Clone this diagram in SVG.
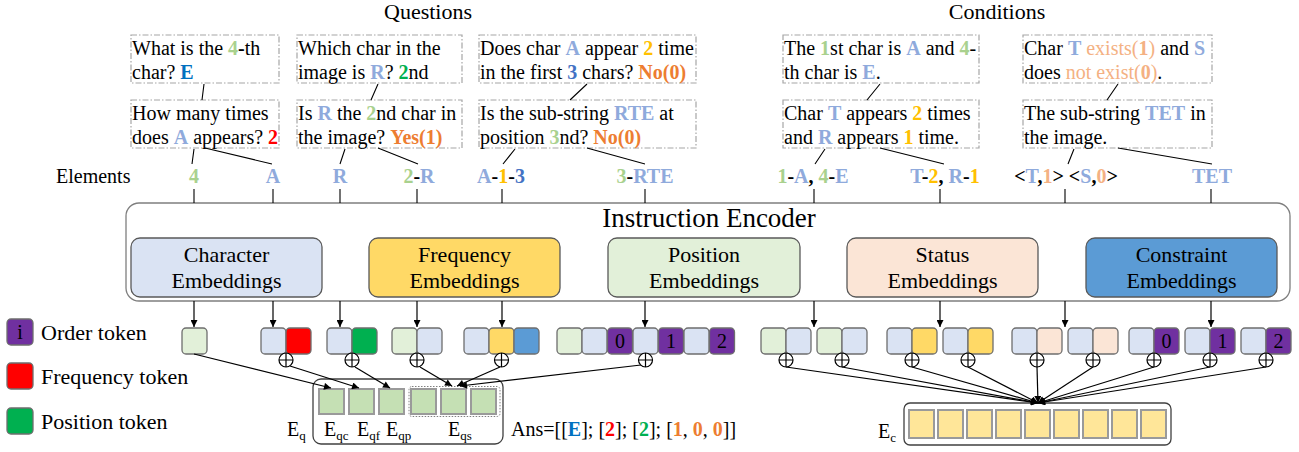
<svg xmlns="http://www.w3.org/2000/svg" width="1299" height="452" viewBox="0 0 1299 452">
<defs>
<marker id="ah" viewBox="0 0 10 10" refX="10" refY="5" markerWidth="8" markerHeight="7" markerUnits="userSpaceOnUse" orient="auto"><path d="M0,0 L10,5 L0,10 z" fill="#000"/></marker>
<g id="plus"><circle cx="0" cy="0" r="7" fill="#fff" stroke="#000" stroke-width="1.2"/><path d="M-7,0H7M0,-7V7" stroke="#000" stroke-width="1.2"/></g>
<style>
text{font-family:"Liberation Serif","Times New Roman",serif;fill:#000}
.q{font-size:20px}
.t22{font-size:22px}
.b{font-weight:bold}
.lg{fill:#A9D18E}
.lb{fill:#8FAADC}
.db{fill:#0070C0}
.b3{fill:#4472C4}
.gd{fill:#FFC000}
.or{fill:#ED7D31}
.sa{fill:#F4B183}
.rd{fill:#FF0000}
.gr{fill:#00B050}
.mid{text-anchor:middle}
.qbox{fill:none;stroke:#A6A6A6;stroke-width:1.2;stroke-dasharray:6 2 1.5 2}
.ln{stroke:#000;stroke-width:1.1;fill:none}
.arr{stroke:#000;stroke-width:1.2;fill:none;marker-end:url(#ah)}
.tok{stroke:#6E6E6E;stroke-width:1.3}
.emb{stroke:#595959;stroke-width:1.3}
.cL{fill:#DAE3F3}
.cG{fill:#E2F0D9}
.cY{fill:#FFD966}
.cB{fill:#5B9BD5}
.cP{fill:#7030A0}
.cS{fill:#FBE5D6}
.cR{fill:#FF0000}
.cN{fill:#00B050}
.eq{fill:#C5E0B4;stroke:#9A9A9A;stroke-width:2}
.ec{fill:#FFE699;stroke:#9A9A9A;stroke-width:2}
</style>
</defs>
<rect width="1299" height="452" fill="#fff"/>

<text class="t22 mid" x="428" y="19">Questions</text>
<text class="t22 mid" x="997" y="19">Conditions</text>

<g id="q1"><rect class="qbox" x="131" y="35" width="148" height="48"/>
<text class="q" x="132" y="55">What is the <tspan class="b lg">4</tspan><tspan class="b">-</tspan>th</text>
<text class="q" x="132" y="79">char? <tspan class="b db">E</tspan></text></g>
<g id="q2"><rect class="qbox" x="131" y="100" width="148" height="48"/>
<text class="q" x="132" y="120">How many times</text>
<text class="q" x="132" y="144">does <tspan class="b lb">A</tspan> appears? <tspan class="b rd">2</tspan></text></g>
<g id="q3"><rect class="qbox" x="297" y="35" width="165" height="48"/>
<text class="q" x="298" y="55">Which char in the</text>
<text class="q" x="298" y="79">image is <tspan class="b lb">R</tspan>? <tspan class="b gr">2</tspan>nd</text></g>
<g id="q4"><rect class="qbox" x="297" y="100" width="165" height="48"/>
<text class="q" x="298" y="120">Is <tspan class="b lb">R</tspan> the <tspan class="b lg">2</tspan>nd char in</text>
<text class="q" x="298" y="144">the image? <tspan class="b or">Yes(1)</tspan></text></g>
<g id="q5"><rect class="qbox" x="479" y="35" width="217" height="48"/>
<text class="q" x="480" y="55">Does char <tspan class="b lb">A</tspan> appear <tspan class="b gd">2</tspan> time</text>
<text class="q" x="480" y="79">in the first <tspan class="b b3">3</tspan> chars? <tspan class="b or">No(0)</tspan></text></g>
<g id="q6"><rect class="qbox" x="479" y="100" width="217" height="48"/>
<text class="q" x="480" y="120">Is the sub-string <tspan class="b lb">RTE</tspan> at</text>
<text class="q" x="480" y="144">position <tspan class="b lg">3</tspan>nd? <tspan class="b or">No(0)</tspan></text></g>
<g id="c1"><rect class="qbox" x="783" y="35" width="196" height="48"/>
<text class="q" x="784" y="55">The <tspan class="b lg">1</tspan>st char is <tspan class="b lb">A</tspan> and <tspan class="b lg">4</tspan>-</text>
<text class="q" x="784" y="79">th char is <tspan class="b lb">E</tspan>.</text></g>
<g id="c2"><rect class="qbox" x="783" y="100" width="196" height="48"/>
<text class="q" x="784" y="120">Char <tspan class="b lb">T</tspan> appears <tspan class="b gd">2</tspan> times</text>
<text class="q" x="784" y="144">and <tspan class="b lb">R</tspan> appears <tspan class="b gd">1</tspan> time.</text></g>
<g id="c3"><rect class="qbox" x="1023" y="35" width="189" height="48"/>
<text class="q" x="1024" y="55">Char <tspan class="b lb">T</tspan> <tspan class="sa">exists(</tspan><tspan class="b sa">1</tspan><tspan class="sa">)</tspan> and <tspan class="b lb">S</tspan></text>
<text class="q" x="1024" y="79">does <tspan class="sa">not exist(</tspan><tspan class="b sa">0</tspan><tspan class="sa">)</tspan>.</text></g>
<g id="c4"><rect class="qbox" x="1023" y="100" width="189" height="48"/>
<text class="q" x="1024" y="120">The sub-string <tspan class="b lb">TET</tspan> in</text>
<text class="q" x="1024" y="144">the image.</text></g>

<g id="elements">
<text class="q" x="56" y="183">Elements</text>
<text class="q b mid lg" x="194" y="183">4</text>
<text class="q b mid lb" x="273" y="183">A</text>
<text class="q b mid lb" x="340" y="183">R</text>
<text class="q b mid" x="419" y="183"><tspan class="lg">2</tspan>-<tspan class="lb">R</tspan></text>
<text class="q b mid" x="501" y="183"><tspan class="lb">A</tspan>-<tspan class="gd">1</tspan>-<tspan class="b3">3</tspan></text>
<text class="q b mid" x="645" y="183"><tspan class="lg">3</tspan>-<tspan class="lb">RTE</tspan></text>
<text class="q b mid" x="813" y="183"><tspan class="lg">1</tspan>-<tspan class="lb">A</tspan>, <tspan class="lg">4</tspan>-<tspan class="lb">E</tspan></text>
<text class="q b mid" x="945" y="183"><tspan class="lb">T</tspan>-<tspan class="gd">2</tspan>, <tspan class="lb">R</tspan>-<tspan class="gd">1</tspan></text>
<text class="q b mid" x="1066" y="183">&lt;<tspan class="lb">T</tspan>,<tspan class="sa">1</tspan>&gt; &lt;<tspan class="lb">S</tspan>,<tspan class="sa">0</tspan>&gt;</text>
<text class="q b mid lb" x="1212" y="183">TET</text>
</g>

<g id="encoder">
<rect x="126" y="203" width="1164" height="98" rx="13" fill="#fff" stroke="#7F7F7F" stroke-width="1.3"/>
<text class="mid" x="709" y="227" style="font-size:27px">Instruction Encoder</text>
<g id="char-emb"><rect class="emb cL" x="131" y="238" width="191" height="59" rx="9"/>
<text class="t22 mid" x="226.5" y="262">Character</text><text class="t22 mid" x="226.5" y="288">Embeddings</text></g>
<g id="freq-emb"><rect class="emb cY" x="369" y="238" width="191" height="59" rx="9"/>
<text class="t22 mid" x="464.5" y="262">Frequency</text><text class="t22 mid" x="464.5" y="288">Embeddings</text></g>
<g id="pos-emb"><rect class="emb cG" x="608" y="238" width="192" height="59" rx="9"/>
<text class="t22 mid" x="704" y="262">Position</text><text class="t22 mid" x="704" y="288">Embeddings</text></g>
<g id="status-emb"><rect class="emb cS" x="847" y="238" width="191" height="59" rx="9"/>
<text class="t22 mid" x="942.5" y="262">Status</text><text class="t22 mid" x="942.5" y="288">Embeddings</text></g>
<g id="cons-emb"><rect class="emb cB" x="1086" y="238" width="191" height="59" rx="9"/>
<text class="t22 mid" x="1181.5" y="262">Constraint</text><text class="t22 mid" x="1181.5" y="288">Embeddings</text></g>
</g>

<g id="legend">
<rect class="tok cP" x="7" y="319" width="26" height="26" rx="4"/><text class="q mid" x="20" y="339">i</text>
<text class="t22" x="41" y="340">Order token</text>
<rect class="tok cR" x="7" y="363" width="26" height="26" rx="4"/>
<text class="t22" x="41" y="384">Frequency token</text>
<rect class="tok cN" x="7" y="408" width="26" height="26" rx="4"/>
<text class="t22" x="41" y="429">Position token</text>
</g>

<g id="tokens-q">
<g id="t1"><rect class="tok cG" x="182" y="328" width="25" height="26" rx="4"/></g>
<g id="t2"><rect class="tok cL" x="261" y="328" width="25" height="26" rx="4"/><rect class="tok cR" x="286" y="328" width="25" height="26" rx="4"/></g>
<g id="t3"><rect class="tok cL" x="327" y="328" width="25" height="26" rx="4"/><rect class="tok cN" x="352" y="328" width="25" height="26" rx="4"/></g>
<g id="t4"><rect class="tok cG" x="392" y="328" width="25" height="26" rx="4"/><rect class="tok cL" x="417" y="328" width="25" height="26" rx="4"/></g>
<g id="t5"><rect class="tok cL" x="464" y="328" width="25" height="26" rx="4"/><rect class="tok cY" x="489" y="328" width="25" height="26" rx="4"/><rect class="tok cB" x="514" y="328" width="25" height="26" rx="4"/></g>
<g id="t6"><rect class="tok cG" x="557" y="328" width="25" height="26" rx="4"/><rect class="tok cL" x="582" y="328" width="25" height="26" rx="4"/><rect class="tok cP" x="607.5" y="328" width="25" height="26" rx="4"/><rect class="tok cL" x="633" y="328" width="25" height="26" rx="4"/><rect class="tok cP" x="658.5" y="328" width="25" height="26" rx="4"/><rect class="tok cL" x="684" y="328" width="25" height="26" rx="4"/><rect class="tok cP" x="709.5" y="328" width="25" height="26" rx="4"/>
<text class="q mid" x="620" y="348">0</text><text class="q mid" x="671" y="348">1</text><text class="q mid" x="722" y="348">2</text></g>
</g>
<g id="tokens-c">
<g id="t7"><rect class="tok cG" x="761" y="328" width="25" height="26" rx="4"/><rect class="tok cL" x="786" y="328" width="25" height="26" rx="4"/><rect class="tok cG" x="817" y="328" width="25" height="26" rx="4"/><rect class="tok cL" x="842" y="328" width="25" height="26" rx="4"/></g>
<g id="t8"><rect class="tok cL" x="887" y="328" width="25" height="26" rx="4"/><rect class="tok cY" x="912" y="328" width="25" height="26" rx="4"/><rect class="tok cL" x="943" y="328" width="25" height="26" rx="4"/><rect class="tok cY" x="968" y="328" width="25" height="26" rx="4"/></g>
<g id="t9"><rect class="tok cL" x="1012" y="328" width="25" height="26" rx="4"/><rect class="tok cS" x="1037" y="328" width="25" height="26" rx="4"/><rect class="tok cL" x="1068" y="328" width="25" height="26" rx="4"/><rect class="tok cS" x="1093" y="328" width="25" height="26" rx="4"/></g>
<g id="t10"><rect class="tok cL" x="1129" y="328" width="25" height="26" rx="4"/><rect class="tok cP" x="1154" y="328" width="25" height="26" rx="4"/><rect class="tok cL" x="1185" y="328" width="25" height="26" rx="4"/><rect class="tok cP" x="1210" y="328" width="25" height="26" rx="4"/><rect class="tok cL" x="1241" y="328" width="25" height="26" rx="4"/><rect class="tok cP" x="1266" y="328" width="25" height="26" rx="4"/>
<text class="q mid" x="1166.5" y="348">0</text><text class="q mid" x="1222.5" y="348">1</text><text class="q mid" x="1278.5" y="348">2</text></g>
</g>

<g id="eq">
<rect x="313" y="379" width="190" height="65" rx="8" fill="none" stroke="#404040" stroke-width="1.3"/>
<rect x="319" y="389" width="25" height="25" class="eq"/><rect x="349" y="389" width="25" height="25" class="eq"/><rect x="379" y="389" width="25" height="25" class="eq"/><rect x="411" y="389" width="25" height="25" class="eq"/><rect x="441" y="389" width="25" height="25" class="eq"/><rect x="471" y="389" width="25" height="25" class="eq"/>
<rect x="409" y="386.5" width="91" height="30" rx="3" fill="none" stroke="#808080" stroke-width="1" stroke-dasharray="1.5 1.5"/>
<text class="q" x="287" y="436">E<tspan font-size="13" dy="4">q</tspan></text>
<text class="q" x="324" y="436">E<tspan font-size="13" dy="4">qc</tspan></text>
<text class="q" x="357" y="436">E<tspan font-size="13" dy="4">qf</tspan></text>
<text class="q" x="386" y="436">E<tspan font-size="13" dy="4">qp</tspan></text>
<text class="q" x="448" y="436">E<tspan font-size="13" dy="4">qs</tspan></text>
</g>
<g id="ans"><text class="q" x="511" y="436">Ans=[[<tspan class="b db">E</tspan>]; [<tspan class="b rd">2</tspan>]; [<tspan class="b gr">2</tspan>]; [<tspan class="b or">1</tspan>, <tspan class="b or">0</tspan>, <tspan class="b or">0</tspan>]]</text></g>

<g id="ec">
<rect x="904" y="403" width="267" height="42" rx="6" fill="none" stroke="#404040" stroke-width="1.3"/>
<rect x="909" y="410" width="25" height="28" class="ec"/><rect x="938" y="410" width="25" height="28" class="ec"/><rect x="967" y="410" width="25" height="28" class="ec"/><rect x="996" y="410" width="25" height="28" class="ec"/><rect x="1025" y="410" width="25" height="28" class="ec"/><rect x="1054" y="410" width="25" height="28" class="ec"/><rect x="1083" y="410" width="25" height="28" class="ec"/><rect x="1112" y="410" width="25" height="28" class="ec"/><rect x="1141" y="410" width="25" height="28" class="ec"/>
<text class="q" x="878" y="438">E<tspan font-size="13" dy="4">c</tspan></text>
</g>

<g id="connectors">
<path class="ln" d="M204,84L202,100M378,84L371,100M587,84L570,100M880,84L867,100M1118,84L1107,100"/>
<path class="ln" d="M194,149L192,164M205,148L272,164M345,149L340,164M378,148L418,164M515,149L503,164M587,148L645,164M825,149L815,164M880,148L944,164M1074,149L1068,164M1118,148L1212,164"/>
<path class="ln" d="M194,189V203M273,189V203M340,189V203M417,189V203M502,189V203M645,189V203M814,189V203M940,189V203M1065,189V203M1211,189V203"/>
<path class="arr" d="M194,301V327"/><path class="arr" d="M273,301V327"/><path class="arr" d="M340,301V327"/><path class="arr" d="M417,301V327"/><path class="arr" d="M502,301V327"/><path class="arr" d="M645,301V327"/>
<path class="arr" d="M814,301V327"/><path class="arr" d="M940,301V327"/><path class="arr" d="M1065,301V327"/><path class="arr" d="M1211,301V327"/>
<path class="arr" d="M194,354L331,388"/>
<path class="arr" d="M290,366L359,388"/>
<path class="arr" d="M355,367L390,388"/>
<path class="arr" d="M420,367L452,386"/>
<path class="arr" d="M500,367L457,386"/>
<path class="arr" d="M641,365L460,386"/>
<path class="arr" d="M786,367L1038,403"/><path class="arr" d="M842,367L1038,403"/><path class="arr" d="M912,367L1038,403"/><path class="arr" d="M968,367L1038,403"/><path class="arr" d="M1037,367L1038,403"/><path class="arr" d="M1093,367L1038,403"/><path class="arr" d="M1154,367L1038,403"/><path class="arr" d="M1210,367L1038,403"/><path class="arr" d="M1266,367L1038,403"/>
<use href="#plus" x="286" y="360"/><use href="#plus" x="352" y="360"/><use href="#plus" x="417" y="360"/><use href="#plus" x="501.5" y="360"/><use href="#plus" x="645.5" y="360"/>
<use href="#plus" x="786" y="360"/><use href="#plus" x="842" y="360"/><use href="#plus" x="912" y="360"/><use href="#plus" x="968" y="360"/><use href="#plus" x="1037" y="360"/><use href="#plus" x="1093" y="360"/><use href="#plus" x="1154" y="360"/><use href="#plus" x="1210" y="360"/><use href="#plus" x="1266" y="360"/>
</g>
</svg>
